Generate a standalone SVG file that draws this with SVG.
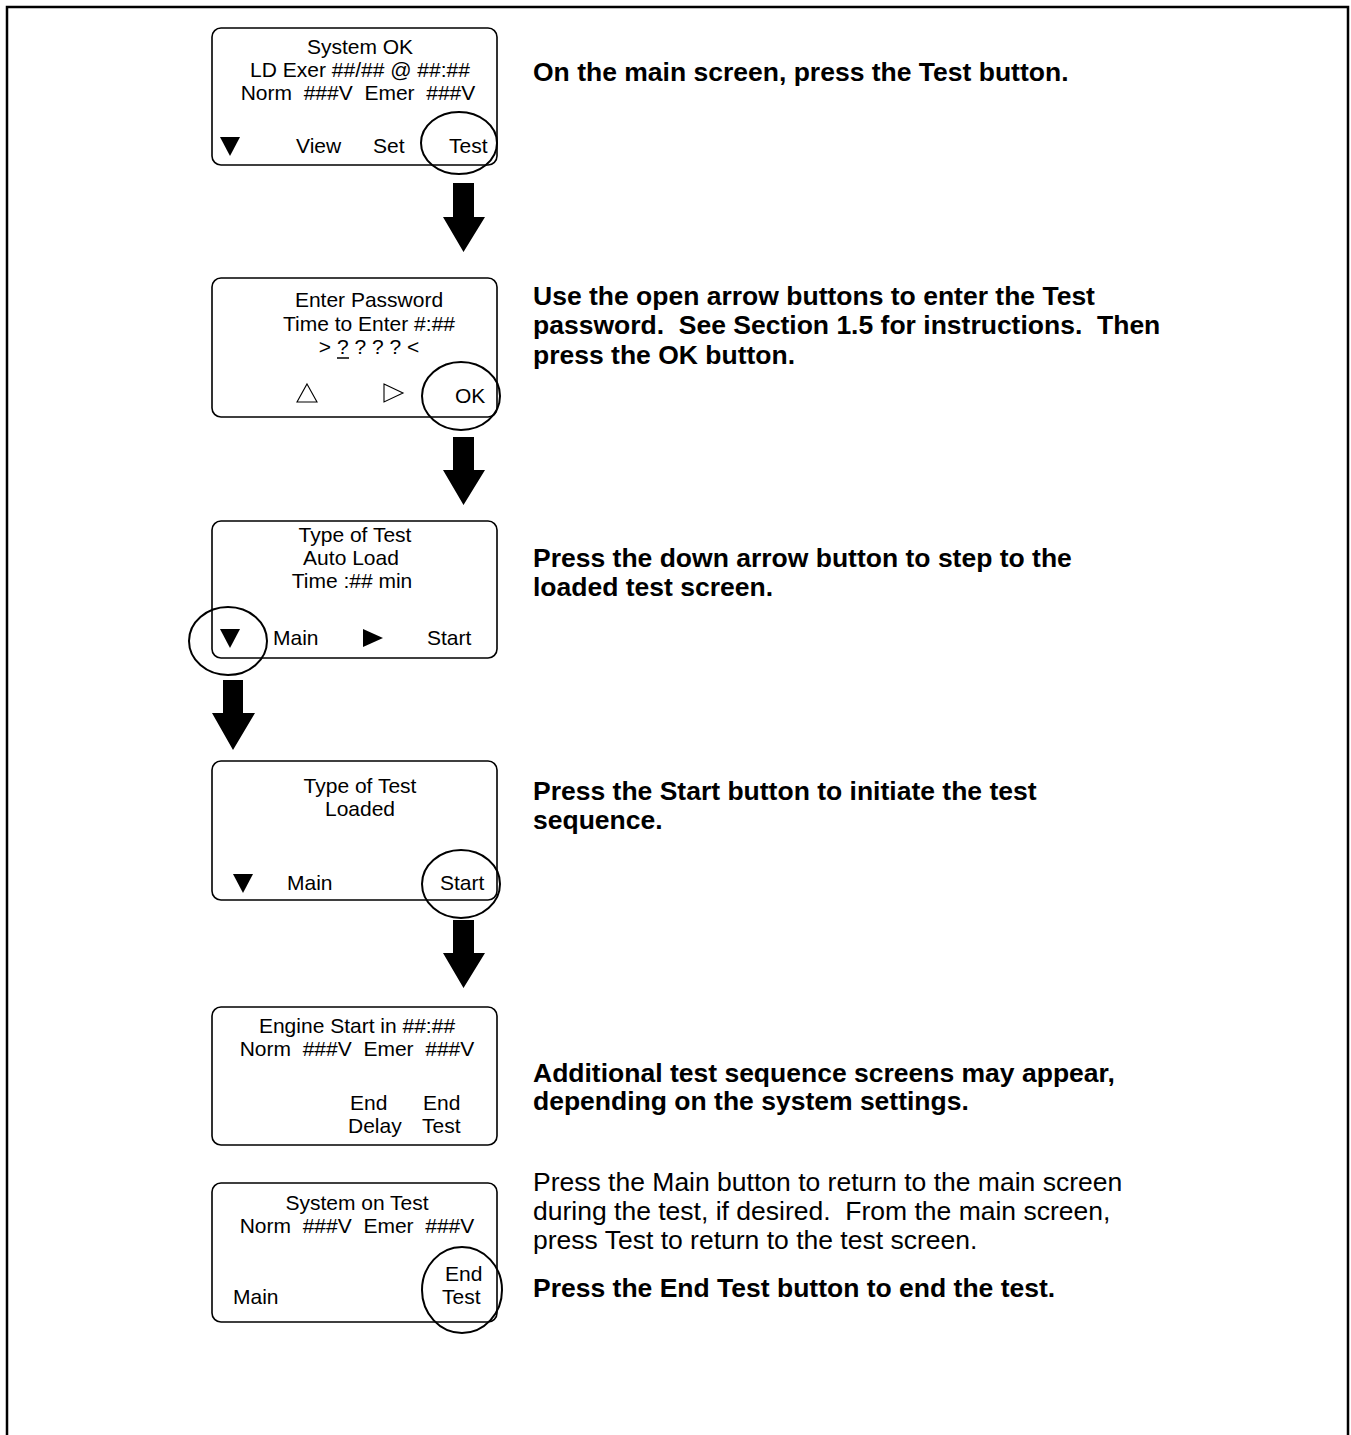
<svg xmlns="http://www.w3.org/2000/svg" width="1351" height="1435" viewBox="0 0 1351 1435">
<style>
text{white-space:pre}
.scr{fill:#fff;stroke:#000;stroke-width:1.6}
.t{font-family:"Liberation Sans",Arial,sans-serif;font-size:21px;fill:#000}
.c{text-anchor:middle}
.b{font-family:"Liberation Sans",Arial,sans-serif;font-size:26.5px;font-weight:bold;fill:#000}
.n{font-family:"Liberation Sans",Arial,sans-serif;font-size:26.5px;fill:#000}
.ring{fill:none;stroke:#000;stroke-width:2}
.arr{fill:#000}
</style>
<defs>
<polygon id="dn" points="0,0 20,0 10,19" fill="#000"/>
</defs>
<rect x="7" y="7" width="1341" height="1450" fill="#fff" stroke="#000" stroke-width="2.5"/>

<g id="connectors">
<polygon class="arr" points="453,183 474,183 474,217 485,217 463.5,252 443,217 453,217"/>
<polygon class="arr" points="453,437 474,437 474,470 485,470 463.5,505 443,470 453,470"/>
<polygon class="arr" points="223,680 243,680 243,713 255,713 233,750 212,713 223,713"/>
<polygon class="arr" points="453,920 474,920 474,953 485,953 463.5,988 443,953 453,953"/>
</g>

<g id="screen1">
<rect class="scr" x="212" y="28" width="285" height="137" rx="9"/>
<text class="t c" x="360" y="54">System OK</text>
<text class="t c" x="360" y="77">LD Exer ##/## @ ##:##</text>
<text class="t c" x="358" y="100">Norm  ###V  Emer  ###V</text>
<use href="#dn" x="220" y="137"/>
<text class="t" x="296" y="153">View</text>
<text class="t" x="373" y="153">Set</text>
<text class="t" x="449" y="153">Test</text>
<ellipse class="ring" cx="459" cy="143" rx="38" ry="31"/>
</g>
<text class="b" x="533" y="81">On the main screen, press the Test button.</text>

<g id="screen2">
<rect class="scr" x="212" y="278" width="285" height="139" rx="9"/>
<text class="t c" x="369" y="307">Enter Password</text>
<text class="t c" x="369" y="331">Time to Enter #:##</text>
<text class="t c" x="369" y="354">&gt; ? ? ? ? &lt;</text>
<line x1="337" y1="358" x2="349" y2="358" stroke="#000" stroke-width="1.5"/>
<polygon points="307,384 317,402 297,402" fill="none" stroke="#000" stroke-width="1.1"/>
<polygon points="384,384 403,393 384,402" fill="none" stroke="#000" stroke-width="1.1"/>
<text class="t" x="455" y="403">OK</text>
<ellipse class="ring" cx="461" cy="396" rx="39" ry="34"/>
</g>
<text class="b" x="533" y="305">Use the open arrow buttons to enter the Test</text>
<text class="b" x="533" y="334">password.  See Section 1.5 for instructions.  Then</text>
<text class="b" x="533" y="364">press the OK button.</text>

<g id="screen3">
<rect class="scr" x="212" y="521" width="285" height="137" rx="9"/>
<text class="t c" x="355" y="542">Type of Test</text>
<text class="t c" x="351" y="565">Auto Load</text>
<text class="t c" x="352" y="588">Time :## min</text>
<use href="#dn" x="220" y="629"/>
<text class="t" x="273" y="645">Main</text>
<polygon points="363,629 383,638 363,647" fill="#000"/>
<text class="t" x="427" y="645">Start</text>
<ellipse class="ring" cx="228" cy="641" rx="39" ry="34"/>
</g>
<text class="b" x="533" y="567">Press the down arrow button to step to the</text>
<text class="b" x="533" y="596">loaded test screen.</text>

<g id="screen4">
<rect class="scr" x="212" y="761" width="285" height="139" rx="9"/>
<text class="t c" x="360" y="793">Type of Test</text>
<text class="t c" x="360" y="816">Loaded</text>
<use href="#dn" x="233" y="874"/>
<text class="t" x="287" y="890">Main</text>
<text class="t" x="440" y="890">Start</text>
<ellipse class="ring" cx="461" cy="884" rx="39" ry="34"/>
</g>
<text class="b" x="533" y="800">Press the Start button to initiate the test</text>
<text class="b" x="533" y="829">sequence.</text>

<g id="screen5">
<rect class="scr" x="212" y="1007" width="285" height="138" rx="9"/>
<text class="t c" x="357" y="1033">Engine Start in ##:##</text>
<text class="t c" x="357" y="1056">Norm  ###V  Emer  ###V</text>
<text class="t" x="350" y="1110">End</text>
<text class="t" x="348" y="1133">Delay</text>
<text class="t" x="423" y="1110">End</text>
<text class="t" x="422" y="1133">Test</text>
</g>
<text class="b" x="533" y="1082">Additional test sequence screens may appear,</text>
<text class="b" x="533" y="1110">depending on the system settings.</text>

<g id="screen6">
<rect class="scr" x="212" y="1183" width="285" height="139" rx="9"/>
<text class="t c" x="357" y="1210">System on Test</text>
<text class="t c" x="357" y="1233">Norm  ###V  Emer  ###V</text>
<text class="t" x="445" y="1281">End</text>
<text class="t" x="442" y="1304">Test</text>
<text class="t" x="233" y="1304">Main</text>
<ellipse class="ring" cx="462" cy="1290" rx="40" ry="43"/>
</g>
<text class="n" x="533" y="1191">Press the Main button to return to the main screen</text>
<text class="n" x="533" y="1220">during the test, if desired.  From the main screen,</text>
<text class="n" x="533" y="1249">press Test to return to the test screen.</text>
<text class="b" x="533" y="1297">Press the End Test button to end the test.</text>
</svg>
